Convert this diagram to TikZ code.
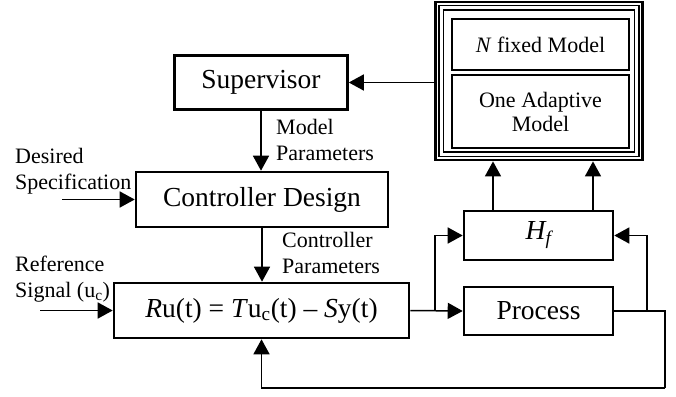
\documentclass[tikz,border=0pt]{standalone}
\usepackage{fontspec}
\setmainfont{Liberation Serif}
\usetikzlibrary{arrows.meta,calc}

\begin{document}
\begin{tikzpicture}[x=1pt, y=-1pt,
	block/.style={shape=rectangle, draw=black, line width=2.6pt, inner sep=0pt, font=\fontsize{27.5}{30}\selectfont},
	mblock/.style={shape=rectangle, draw=black, line width=2.6pt, inner sep=0pt, align=center, font=\fontsize{22}{24}\selectfont},
	lbl/.style={align=left, inner sep=0pt, font=\fontsize{22}{26}\selectfont},
	arr/.style={line width=1.5pt, -{Triangle[length=15pt, width=16pt]}},
	wire/.style={line width=1.5pt}]
	\useasboundingbox (0,0) rectangle (676,396);

	\node[block, minimum width=173, minimum height=54]  (sup)  at (261,82.5)  {Supervisor};
	\node[block, minimum width=252, minimum height=55]  (cd)   at (262,199.5) {Controller Design};
	\node[block, minimum width=295, minimum height=55]  (eq)   at (261.5,310.5) {\textit{R}u(t) = \textit{T}u\textsubscript{c}(t) -- \textit{S}y(t)};
	\node[block, minimum width=149, minimum height=49]  (hf)   at (538.5,235.5) {\textit{H\textsubscript{f}}};
	\node[block, minimum width=149, minimum height=48]  (proc) at (538.5,311)   {Process};

	\node[shape=rectangle, draw=black, line width=2.8pt, minimum width=207, minimum height=158] (mdl) at (539,81) {};
	\draw[line width=1.6pt] ($(mdl.north west)+(5,5)$) rectangle ($(mdl.south east)+(-5,-5)$);
	\draw[line width=1.6pt] ($(mdl.north west)+(9.5,9.5)$) rectangle ($(mdl.south east)+(-9.5,-9.5)$);
	\node[mblock, minimum width=177, minimum height=51] (nfix) at (540.5,44.5)  {\textit{N} fixed Model};
	\node[mblock, minimum width=177, minimum height=73] (oada) at (540.5,111.5) {One Adaptive\\Model};

	\node[lbl, anchor=west] (mplbl) at (276,140)   {Model\\Parameters};
	\node[lbl, anchor=west] (cplbl) at (282,253)   {Controller\\Parameters};
	\node[lbl, anchor=west] (dslbl) at (15,171)    {Desired\\Specification};
	\node[lbl, anchor=west] (rslbl) at (15,279)    {Reference\\Signal (u\textsubscript{c})};

	\coordinate (dsin) at (62,199.5);
	\coordinate (rsin) at (40,310.5);
	\coordinate (br1)  at (435,311);
	\coordinate (br2)  at (647,311);
	\coordinate (fb)   at (665,388);

	\draw[arr] (mdl.west |- sup.east) -- (sup.east);
	\draw[arr] (sup.south) -- (sup.south |- cd.north);
	\draw[arr] (cd.south) -- (cd.south |- eq.north);
	\draw[arr] (dsin) -- (cd.west);
	\draw[arr] (rsin) -- (eq.west);
	\draw[arr] (eq.east) -- (proc.west);
	\draw[arr] (br1) |- (hf.west);
	\draw[arr] (br2) |- (hf.east);
	\draw[wire] (proc.east) -| (fb);
	\draw[arr] (fb) -| (eq.south);
	\draw[arr] ([xshift=-45.5pt]hf.north) -- ([xshift=-45.5pt]hf.north |- mdl.south);
	\draw[arr] ([xshift=54.5pt]hf.north) -- ([xshift=54.5pt]hf.north |- mdl.south);
\end{tikzpicture}
\end{document}
